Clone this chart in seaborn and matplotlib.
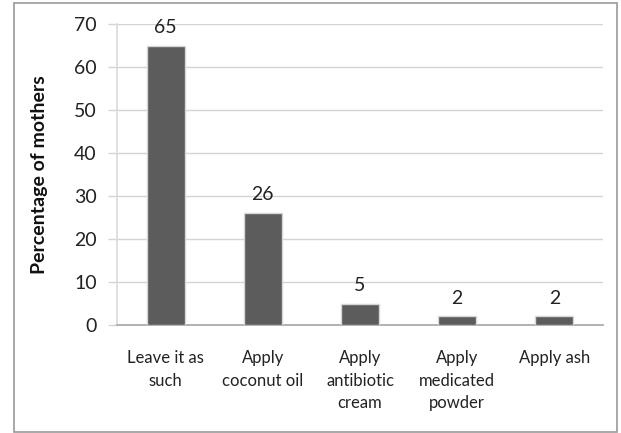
import matplotlib
matplotlib.use("Agg")
import matplotlib.pyplot as plt
import seaborn as sns
import pandas as pd
from matplotlib.patches import Rectangle

categories = ["Leave it as\nsuch", "Apply\ncoconut oil", "Apply\nantibiotic\ncream",
              "Apply\nmedicated\npowder", "Apply ash"]
percentages = [65, 26, 5, 2, 2]
y_ticks = [0, 10, 20, 30, 40, 50, 60, 70]

sns.set_theme(style="white")
plt.rcParams["font.family"] = ["Lato", "DejaVu Sans"]

df = pd.DataFrame({"practice": categories, "pct": percentages})

fig = plt.figure(figsize=(6.21, 4.33), dpi=100)
ax = fig.add_axes([117 / 621, 1 - 325 / 433, 486 / 621, 301 / 433])

sns.barplot(data=df, x="practice", y="pct", color="#5c5c5c", width=0.39,
            saturation=1, ax=ax, zorder=3, edgecolor="#d6d6d6", linewidth=1)

ax.set_ylim(0, 70)
ax.set_yticks(y_ticks)
ax.grid(axis="y", color="#d4d4d4", linewidth=1, zorder=0)
for s in ["top", "right"]:
    ax.spines[s].set_visible(False)
ax.spines["left"].set_color("#dcdcdc")
ax.spines["bottom"].set_color("#a8a8a8")
ax.tick_params(axis="y", length=6.5, width=1, color="#d4d4d4", labelsize=14,
               pad=8, left=True, labelcolor="#222222")
ax.tick_params(axis="x", length=0, labelsize=12, pad=18, labelcolor="#222222")
for lbl in ax.get_xticklabels():
    lbl.set_linespacing(1.5)
ax.set_xlabel("")
ax.set_ylabel("Percentage of mothers", fontsize=14, fontweight="bold", color="#111111")
ax.yaxis.set_label_coords((48 - 117) / 486, 0.5)

for i, v in enumerate(percentages):
    ax.text(i, v + 3, str(v), ha="center", va="baseline", fontsize=14, color="#222222")

fig.patches.append(Rectangle((14 / 621, 1 / 433), 603 / 621, 429 / 433,
                             transform=fig.transFigure, fill=False,
                             edgecolor="#9a9a9a", linewidth=1.2))

fig.savefig("out.png", dpi=100)
